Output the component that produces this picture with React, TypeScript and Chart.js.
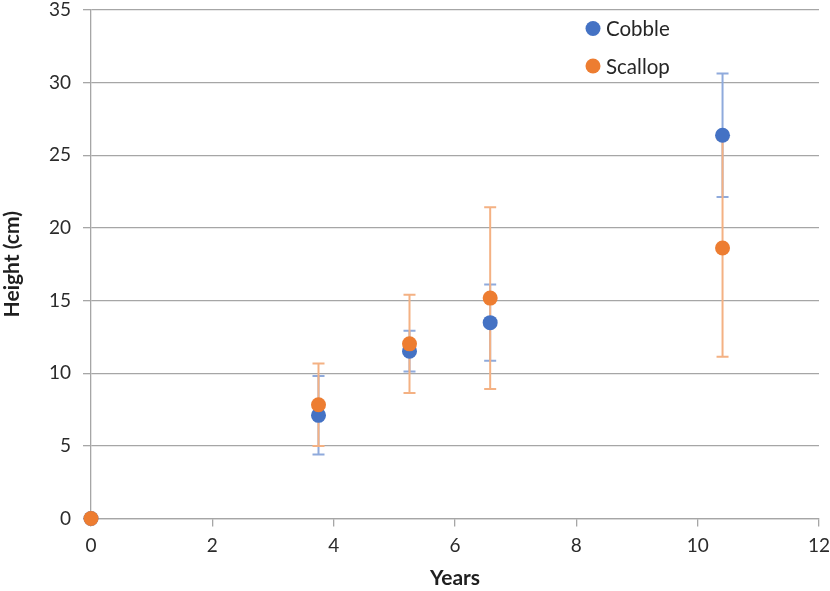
import React, { useEffect, useRef } from "react";
import { Chart, registerables } from "chart.js";

Chart.register(...registerables);

// Measured growth per habitat
const years = [0, 3.75, 5.25, 6.58, 10.41];
const cobbleHeight = [0, 7.1, 11.52, 13.48, 26.38];
const cobbleErr = [0, 2.7, 1.41, 2.63, 4.25];
const scallopHeight = [0, 7.83, 12.02, 15.17, 18.62];
const scallopErr = [0, 2.84, 3.38, 6.25, 7.49];

const seriesNames = ["Cobble", "Scallop"];
const seriesColors = ["#4472C4", "#ED7D31"];
const errorColors = ["#8FAADC", "#F4B183"];
const seriesErrors = [cobbleErr, scallopErr];

const xAxisTitle = "Years";
const yAxisTitle = "Height (cm)";
const xRange = { min: 0, max: 12, step: 2 };
const yRange = { min: 0, max: 35, step: 5 };

const FONT = "Lato, 'Open Sans', sans-serif";
const GRID = "#A6A6A6";

// Error bars go under every marker
const errorBarPlugin = {
  id: "errorBars",
  beforeDatasetsDraw(chart: any) {
    const ctx = chart.ctx;
    const xs = chart.scales.x;
    const ys = chart.scales.y;
    ctx.save();
    chart.data.datasets.forEach((ds: any, i: number) => {
      const errs = seriesErrors[i];
      ctx.strokeStyle = errorColors[i];
      ctx.lineWidth = 2;
      ds.data.forEach((pt: any, j: number) => {
        const e = errs[j];
        if (!e) return;
        const px = xs.getPixelForValue(pt.x);
        const top = ys.getPixelForValue(pt.y + e);
        const bot = ys.getPixelForValue(pt.y - e);
        const cap = 6;
        ctx.beginPath();
        ctx.moveTo(px, top);
        ctx.lineTo(px, bot);
        ctx.moveTo(px - cap, top);
        ctx.lineTo(px + cap, top);
        ctx.moveTo(px - cap, bot);
        ctx.lineTo(px + cap, bot);
        ctx.stroke();
      });
    });
    ctx.restore();
  },
};

// Legend drawn inside the plot, upper right
const insideLegendPlugin = {
  id: "insideLegend",
  afterDraw(chart: any) {
    const ctx = chart.ctx;
    const area = chart.chartArea;
    const x0 = area.left + 502;
    const y0 = area.top + 18.5;
    const rowGap = 37.5;
    ctx.save();
    ctx.font = `20.5px ${FONT}`;
    ctx.textBaseline = "middle";
    ctx.textAlign = "left";
    seriesNames.forEach((name, i) => {
      const cy = y0 + i * rowGap;
      ctx.fillStyle = seriesColors[i];
      ctx.beginPath();
      ctx.arc(x0, cy, 7.5, 0, Math.PI * 2);
      ctx.fill();
      ctx.fillStyle = "#262626";
      ctx.fillText(name, x0 + 13, cy + 1);
    });
    ctx.restore();
  },
};

export default function App() {
  const canvasRef = useRef<HTMLCanvasElement | null>(null);

  useEffect(() => {
    if (!canvasRef.current) return;
    const datasets = [cobbleHeight, scallopHeight].map((vals, i) => ({
      label: seriesNames[i],
      data: years.map((x, j) => ({ x, y: vals[j] })),
      backgroundColor: seriesColors[i],
      borderColor: seriesColors[i],
      borderWidth: 0,
      pointRadius: 7.5,
      pointHoverRadius: 7.5,
      showLine: false,
      clip: false,
      // Scallop markers sit on top of Cobble markers
      order: i === 0 ? 1 : 0,
    }));

    const chart = new Chart(canvasRef.current, {
      type: "scatter",
      data: { datasets },
      plugins: [errorBarPlugin, insideLegendPlugin],
      options: {
        responsive: false,
        animation: false,
        devicePixelRatio: 1,
        layout: { padding: { top: 10, right: 11, bottom: 0, left: 0 } },
        plugins: {
          legend: { display: false },
          tooltip: { enabled: false },
        },
        scales: {
          x: {
            type: "linear",
            min: xRange.min,
            max: xRange.max,
            ticks: {
              stepSize: xRange.step,
              color: "#2b2b2b",
              font: { family: FONT, size: 19 },
              padding: 8,
            },
            grid: {
              drawOnChartArea: false,
              drawTicks: true,
              tickLength: 8,
              color: GRID,
              lineWidth: 1.3,
            },
            border: { display: true, color: GRID, width: 1.3 },
            title: {
              display: true,
              text: xAxisTitle,
              color: "#1f1f1f",
              font: { family: FONT, size: 21, weight: "bold" },
              padding: { top: 0, bottom: 0 },
            },
            afterFit(scale: any) {
              scale.height = 72.5;
              scale.paddingLeft = 0;
              scale.paddingRight = 0;
            },
          },
          y: {
            type: "linear",
            min: yRange.min,
            max: yRange.max,
            ticks: {
              stepSize: yRange.step,
              color: "#2b2b2b",
              font: { family: FONT, size: 19 },
              padding: 12,
            },
            grid: {
              drawTicks: true,
              tickLength: 8,
              color: GRID,
              lineWidth: 1.3,
            },
            border: { display: true, color: GRID, width: 1.3 },
            title: {
              display: true,
              text: yAxisTitle,
              color: "#1f1f1f",
              font: { family: FONT, size: 21, weight: "bold" },
              padding: { top: 0, bottom: 0 },
            },
            afterFit(scale: any) {
              scale.width = 91;
              scale.paddingTop = 0;
              scale.paddingBottom = 0;
            },
          },
        },
      } as any,
    });
    return () => chart.destroy();
  }, []);

  return (
    <div style={{ position: "fixed", left: 0, top: 0, width: 830, height: 591, background: "#fff" }}>
      <canvas ref={canvasRef} width={830} height={591} style={{ display: "block" }} />
    </div>
  );
}
